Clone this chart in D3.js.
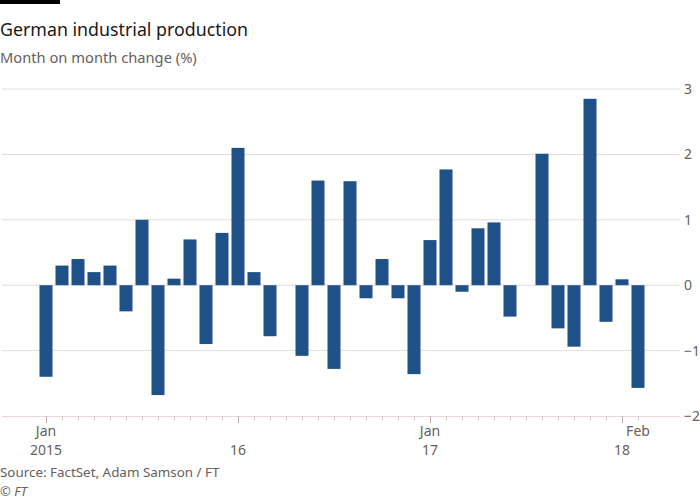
<!DOCTYPE html>
<html>
<head>
<meta charset="utf-8">
<script src="https://cdn.jsdelivr.net/npm/d3@7/dist/d3.min.js"></script>
<style>
  html, body { margin: 0; padding: 0; background: #ffffff; }
  svg { display: block; font-family: "Noto Sans", "Open Sans", sans-serif; }
</style>
</head>
<body>
<svg id="chart" width="700" height="500"></svg>
<script>
// Months Jan 2015 .. Feb 2018
const months = [
  "2015-01","2015-02","2015-03","2015-04","2015-05","2015-06","2015-07","2015-08","2015-09","2015-10","2015-11","2015-12",
  "2016-01","2016-02","2016-03","2016-04","2016-05","2016-06","2016-07","2016-08","2016-09","2016-10","2016-11","2016-12",
  "2017-01","2017-02","2017-03","2017-04","2017-05","2017-06","2017-07","2017-08","2017-09","2017-10","2017-11","2017-12",
  "2018-01","2018-02"
];
const values = [
  -1.4, 0.3, 0.4, 0.2, 0.3, -0.4, 1.0, -1.68, 0.1, 0.7, -0.9, 0.8,
  2.1, 0.2, -0.78, 0, -1.08, 1.6, -1.28, 1.59, -0.2, 0.4, -0.2, -1.36,
  0.69, 1.77, -0.1, 0.87, 0.96, -0.48, 0, 2.01, -0.66, -0.94, 2.85, -0.56,
  0.09, -1.57
];
const yTicks = [-2, -1, 0, 1, 2, 3];
// x tick labels: [month index, first line, second line]
const xLabelIdx = [0, 12, 24, 36, 37];
const xLabelTop = ["Jan", "", "Jan", "", "Feb"];
const xLabelBottom = ["2015", "16", "17", "18", ""];
const majorIdx = [0, 12, 24, 36];

const title = "German industrial production";
const subtitle = "Month on month change (%)";
const source = "Source: FactSet, Adam Samson / FT";
const copyright = "\u00A9 FT";

const svg = d3.select("#chart");

// top black bar
svg.append("rect").attr("x", 0).attr("y", 0).attr("width", 60).attr("height", 4).attr("fill", "#000");

svg.append("text").attr("x", 0).attr("y", 36).attr("font-size", 17.8).attr("fill", "#1a1817").text(title);
svg.append("text").attr("x", 0).attr("y", 63).attr("font-size", 14.7).attr("fill", "#66605c").text(subtitle);

const x = d3.scaleLinear().domain([-2.75, 39.625]).range([2, 680]);
const y = d3.scaleLinear().domain([-2, 3]).range([416, 89]);

// gridlines
svg.append("g").selectAll("line").data(yTicks.filter(d => d !== -2)).join("line")
  .attr("x1", x.range()[0]).attr("x2", x.range()[1])
  .attr("y1", d => y(d)).attr("y2", d => y(d))
  .attr("stroke", "#e2ddd8").attr("stroke-width", 1);

// right y axis labels
const yAxis = d3.axisRight(y).tickValues(yTicks).tickSize(0).tickPadding(4).tickFormat(d3.format("d"));
const gy = svg.append("g").attr("transform", `translate(${x.range()[1]},0)`).call(yAxis);
gy.select(".domain").remove();
gy.selectAll("text").attr("font-size", 14).attr("fill", "#66605c").attr("font-family", '"Noto Sans", sans-serif');

// bars
const bw = 13;
svg.append("g").selectAll("rect").data(values).join("rect")
  .attr("x", (d, i) => x(i) - bw / 2)
  .attr("width", bw)
  .attr("y", d => y(Math.max(0, d)))
  .attr("height", d => Math.abs(y(d) - y(0)))
  .attr("fill", "#1f5189");

// x axis
const xAxisMinor = d3.axisBottom(x).tickValues(d3.range(0, months.length)).tickSize(4).tickFormat("");
const gx = svg.append("g").attr("transform", `translate(0,${y(-2)})`).call(xAxisMinor);
gx.select(".domain").attr("stroke", "#e8d6d4").attr("d", `M${x.range()[0]},0.5H${x.range()[1]}`);
gx.selectAll(".tick line").attr("stroke", "#cfc9c4");

const xAxisMajor = d3.axisBottom(x).tickValues(majorIdx).tickSize(7).tickFormat("");
const gx2 = svg.append("g").attr("transform", `translate(0,${y(-2)})`).call(xAxisMajor);
gx2.select(".domain").remove();
gx2.selectAll(".tick line").attr("stroke", "#b8b1ab");

const lab = svg.append("g");
xLabelIdx.forEach((idx, k) => {
  lab.append("text").attr("x", x(idx)).attr("y", 436).attr("text-anchor", "middle")
    .attr("font-size", 14).attr("fill", "#66605c").text(xLabelTop[k]);
  lab.append("text").attr("x", x(idx)).attr("y", 455).attr("text-anchor", "middle")
    .attr("font-size", 14).attr("fill", "#66605c").text(xLabelBottom[k]);
});

svg.append("text").attr("x", 0).attr("y", 477).attr("font-size", 13.4).attr("fill", "#66605c").text(source);
svg.append("text").attr("x", 0).attr("y", 496).attr("font-size", 13).attr("font-style", "italic").attr("fill", "#66605c").text(copyright);
</script>
</body>
</html>
